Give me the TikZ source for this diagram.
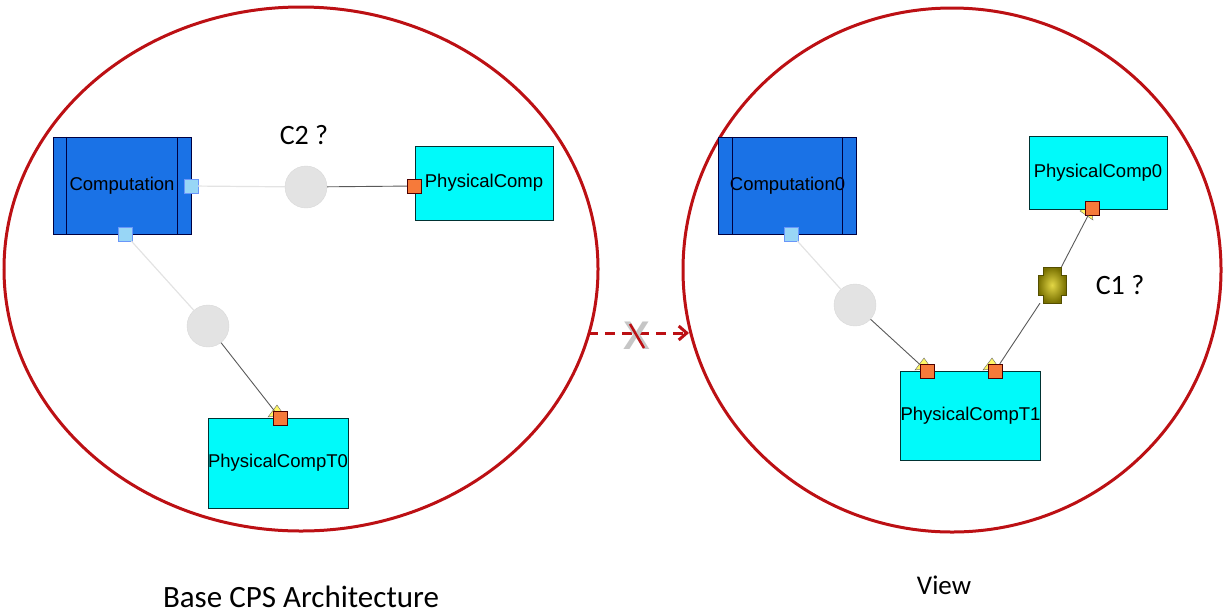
\documentclass[tikz,border=0pt]{standalone}
\usepackage{fontspec}
\setmainfont{Liberation Sans}
\newfontfamily\carlito{Carlito}
\usetikzlibrary{arrows.meta,positioning,calc}
\definecolor{cc}{RGB}{26,114,230}
\definecolor{pc}{RGB}{0,250,250}
\definecolor{oc}{RGB}{246,122,58}
\definecolor{bc}{RGB}{152,214,246}
\definecolor{rg}{RGB}{188,16,20}
\definecolor{ol}{RGB}{120,112,0}
\definecolor{yl}{RGB}{226,214,70}
\tikzset{comp/.style={draw=black!75!blue,fill=cc,minimum width=138,minimum height=97,inner sep=0,font=\fontsize{18.5}{20}\selectfont},
 phys/.style={draw=black!60!teal,fill=pc,minimum width=138,inner sep=0,font=\fontsize{18.5}{20}\selectfont},
 bar/.style={draw=black!75!blue,line width=.8pt},
 op/.style={draw=black!70!red,fill=oc,minimum size=14,inner sep=0},
 bp/.style={draw=bc!70!blue,fill=bc,minimum size=14,inner sep=0},
 gc/.style={circle,draw=gray!30,fill=gray!22,minimum size=42,inner sep=0},
 tri/.style={draw=black!60,fill=yellow!60,line width=.4pt},
 lite/.style={gray!22,line width=1.2pt},dark/.style={gray!70!black,line width=.9pt},
 ring/.style={draw=rg,line width=3pt},
 lbl/.style={font=\carlito\fontsize{28}{30}\selectfont}}
\begin{document}
\begin{tikzpicture}[x=1pt,y=-1pt]
\useasboundingbox (0,0) rectangle (1225,614);
\draw[ring] (301,269) ellipse [x radius=297,y radius=262];
\draw[ring] (952,270) ellipse [x radius=269,y radius=262];
% yellow flags behind the physical ports
\foreach \x/\y in {280/418,927/371,995/371}{\filldraw[tri] (\x-12,\y-1)--(\x-3,\y-13)--(\x+4,\y-3)--cycle;}
\filldraw[tri] (1092-12,208+3)--(1092-2,208-4)--(1092+1,208+12)--cycle;
% base CPS architecture
\node[comp] (cmp) at (122,185.5) {Computation};
\node[phys,minimum height=74] (phy) at (484,183) {PhysicalComp};
\node[phys,minimum height=90] (pt0) at (278,463) {PhysicalCompT0};
\node[bp] (b1) at (191,186) {};\node[bp] (b2) at (125,234) {};
\node[op] (o1) at (414,186) {};\node[op] (o2) at (280,418) {};
\node[gc] (g1) at (306,187) {};\node[gc] (g2) at (208,326) {};
\draw[lite] (b1)--(g1);\draw[dark] (g1)--(o1);
\draw[lite] (b2)--(g2);\draw[dark] (g2)--(o2);
\node[lbl] (c2) at (304,135) {C2 ?};
% view
\node[comp] (cmz) at (787.5,185.5) {Computation0};
\node[phys,minimum height=73] (ph0) at (1098,172.5) {PhysicalComp0};
\node[phys,minimum height=89] (pt1) at (970.5,415.5) {PhysicalCompT1};
\node[bp] (b3) at (791,234) {};
\node[op] (o3) at (927,371) {};\node[op] (o4) at (995,371) {};\node[op] (o5) at (1092,208) {};
\node[gc] (g3) at (855,305) {};
\node[minimum width=28,minimum height=36,inner sep=0] (cx) at (1052,285) {};
\shade[inner color=yl,outer color=ol,draw=ol!70!black,line width=.5pt] (1052,285) ++(-9,-18)--++(18,0)--++(0,8)--++(5,0)--++(0,20)--++(-5,0)--++(0,8)--++(-18,0)--++(0,-8)--++(-5,0)--++(0,-20)--++(5,0)--cycle;
\draw[lite] (b3)--(g3);\draw[dark] (g3)--(o3);
\draw[dark] (o5)--(cx);\draw[dark] (cx)--(o4);
\node[lbl] (c1) at (1120,285) {C1 ?};
\foreach \n in {cmp,cmz}{\draw[bar] ([xshift=14]\n.north west)--([xshift=14]\n.south west);
 \draw[bar] ([xshift=-14]\n.north east)--([xshift=-14]\n.south east);}
% transformation arrow
\coordinate (xa) at (588,333);\coordinate (xb) at (689,333);
\draw[rg,line width=3pt,dash pattern=on 10pt off 7pt,-{Straight Barb[length=8pt,width=14pt]}] (xa)--(xb);
\node[text=gray!45,font=\fontsize{40}{40}\selectfont\bfseries,inner sep=0] (nx) at (637,336) {X};
\draw[rg,line width=2.5pt] ([shift={(-7,-12)}]nx.center)--([shift={(7,12)}]nx.center);
\node[lbl,font=\carlito\fontsize{31}{33}\selectfont] (t1) at (301,597) {Base CPS Architecture};
\node[lbl,font=\carlito\fontsize{27}{29}\selectfont] (t2) at (944,585) {View};
\end{tikzpicture}
\end{document}
